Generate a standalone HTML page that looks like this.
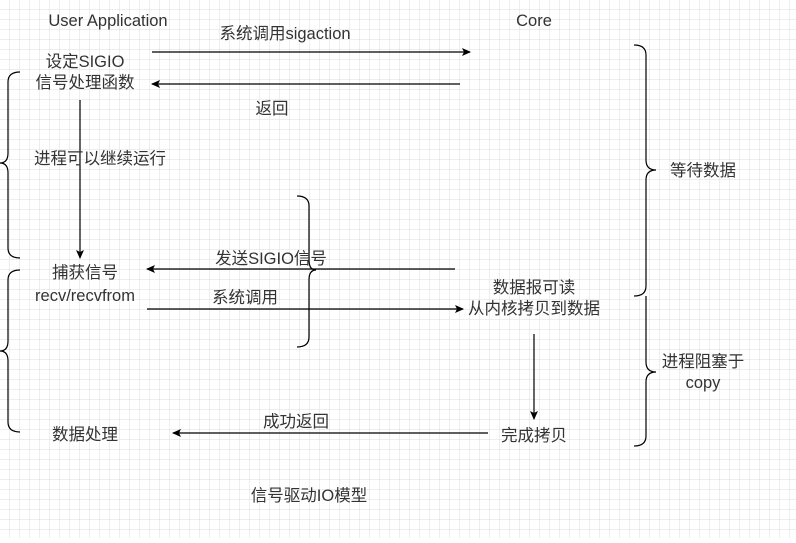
<!DOCTYPE html>
<html><head><meta charset="utf-8"><style>
body{margin:0;width:796px;height:538px;overflow:hidden;background:#fff}
svg text{font-family:"Liberation Sans","Noto Sans CJK SC",sans-serif;font-size:16.5px;fill:#333;text-anchor:middle}
</style></head><body>
<svg width="796" height="538" xmlns="http://www.w3.org/2000/svg">
<defs>
<pattern id="g" width="10" height="10" patternUnits="userSpaceOnUse"><path d="M10 0V10M0 10H10" fill="none" stroke="#dcdcdc" stroke-width="1"/></pattern>
<marker id="a" markerWidth="10" markerHeight="10" refX="8" refY="5" orient="auto" markerUnits="userSpaceOnUse"><path d="M0,1 L9,5 L0,9 L2,5 Z" fill="#000"/></marker>
</defs>
<rect width="796" height="538" fill="url(#g)"/>
<g stroke="#000" stroke-width="1.2" fill="none">
<line x1="152" y1="52" x2="470" y2="52" marker-end="url(#a)"/>
<line x1="460" y1="84" x2="152" y2="84" marker-end="url(#a)"/>
<line x1="80" y1="100" x2="80" y2="258" marker-end="url(#a)"/>
<line x1="455" y1="269" x2="147" y2="269" marker-end="url(#a)"/>
<line x1="147" y1="309" x2="463" y2="309" marker-end="url(#a)"/>
<line x1="534" y1="334" x2="534" y2="419" marker-end="url(#a)"/>
<line x1="488" y1="433" x2="173" y2="433" marker-end="url(#a)"/>
<path d="M20 72 Q8 72 8 82 V153 Q8 163 0 163 Q8 163 8 173 V248 Q8 258 20 258"/>
<path d="M20 270 Q8 270 8 280 V341 Q8 351 0 351 Q8 351 8 361 V422 Q8 432 20 432"/>
<path d="M297 196 Q309 196 309 206 V260 Q309 270 316 270 Q309 270 309 280 V337 Q309 347 297 347"/>
<path d="M634 45 Q646 45 646 55 V160 Q646 170 656 170 Q646 170 646 180 V286 Q646 296 634 296"/>
<path d="M646 296 Q646 306 646 310 V362 Q646 372 656 372 Q646 372 646 382 V436 Q646 446 634 446"/>
</g>
<text x="108" y="26">User Application</text>
<text x="534" y="26">Core</text>
<text x="285" y="39">系统调用sigaction</text>
<text x="272" y="114">返回</text>
<text x="85" y="67">设定SIGIO</text>
<text x="85" y="88">信号处理函数</text>
<text x="100" y="164">进程可以继续运行</text>
<text x="271" y="264">发送SIGIO信号</text>
<text x="85" y="278">捕获信号</text>
<text x="85" y="301">recv/recvfrom</text>
<text x="245" y="303">系统调用</text>
<text x="534" y="293">数据报可读</text>
<text x="534" y="314">从内核拷贝到数据</text>
<text x="534" y="441">完成拷贝</text>
<text x="296" y="427">成功返回</text>
<text x="85" y="440">数据处理</text>
<text x="703" y="176">等待数据</text>
<text x="703" y="367">进程阻塞于</text>
<text x="703" y="388">copy</text>
<text x="309" y="501">信号驱动IO模型</text>
</svg>
</body></html>
